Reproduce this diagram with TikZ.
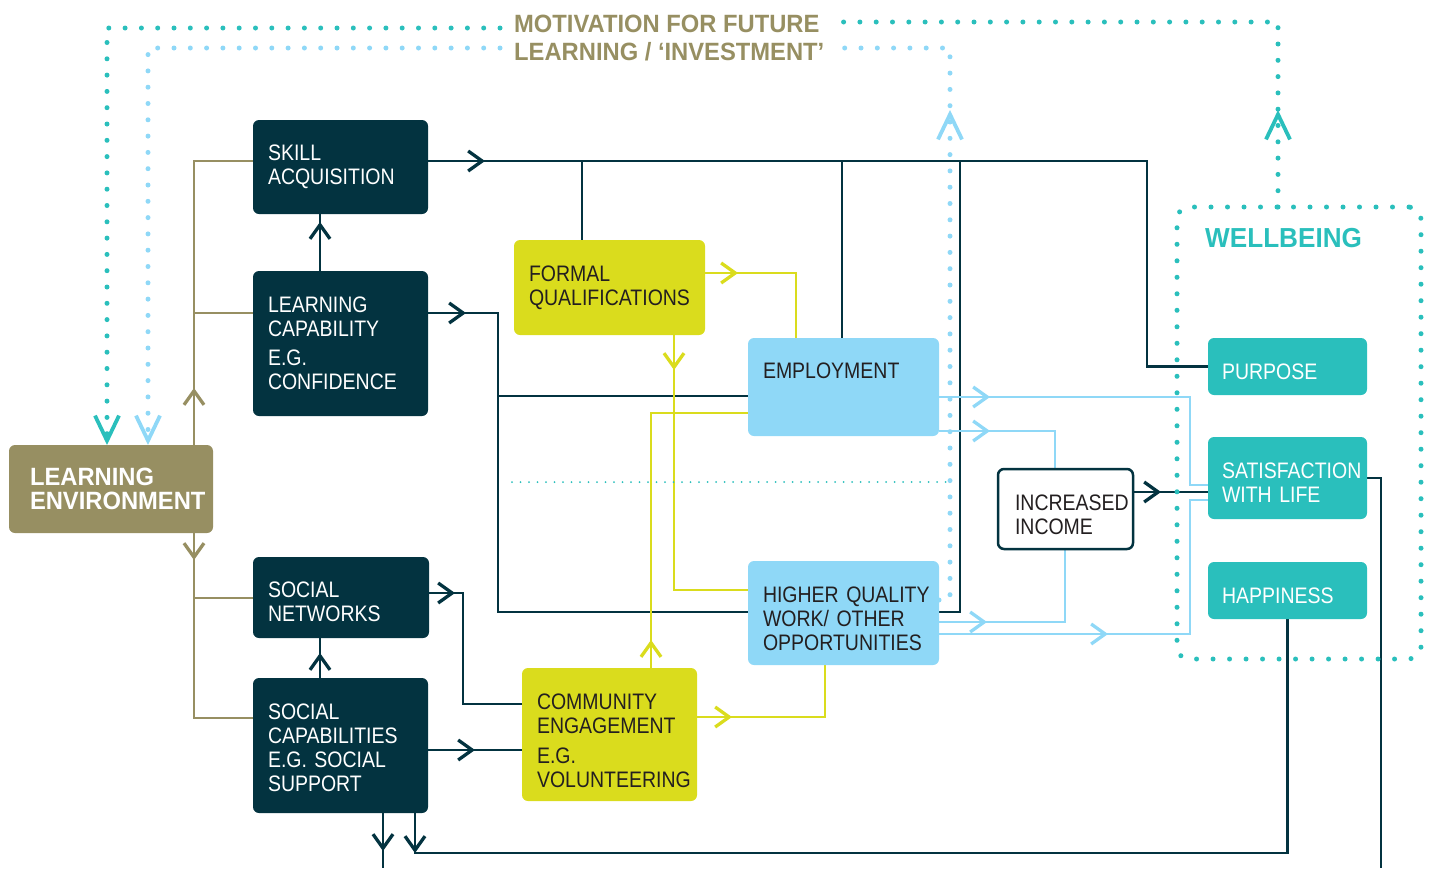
\documentclass[tikz,border=0pt]{standalone}
\usepackage{fontspec}
\setmainfont{Liberation Sans}[FakeStretch=0.87]
\newfontfamily\headfont{Liberation Sans}[FakeStretch=0.95]
\usepackage{xcolor}
\usetikzlibrary{arrows.meta, positioning, calc, backgrounds, decorations.markings}
\definecolor{darknavy}{RGB}{3,51,64}
\definecolor{envkhaki}{RGB}{151,143,98}
\definecolor{limeyellow}{RGB}{218,220,29}
\definecolor{skyblue}{RGB}{143,216,247}
\definecolor{wbteal}{RGB}{42,191,188}
\definecolor{inkdark}{RGB}{35,31,32}
\newcommand\diagfont{\fontsize{22.4}{24}\selectfont}
\newcommand\headsize{\headfont\bfseries\fontsize{25}{28}\selectfont}
\newcommand\lowstrut[1]{\rule{0pt}{#1}}
\tikzset{
	chev/.tip={Straight Barb[length=14pt,width=20pt,line width=3.3pt]},
	bigchev/.tip={Straight Barb[length=25pt,width=24pt,line width=3.8pt]}
}

\begin{document}
\begin{tikzpicture}
		[x=1pt,y=-1pt,
	diagbox/.style={rounded corners=6pt,anchor=north west,outer sep=0pt,inner xsep=15pt,inner ysep=2pt,align=left,font=\diagfont,execute at begin node={\hyphenpenalty=10000}},
	darkbox/.style={diagbox,fill=darknavy,text=white},
	limebox/.style={diagbox,fill=limeyellow,text=inkdark},
	skybox/.style={diagbox,fill=skyblue,text=inkdark},
	tealbox/.style={diagbox,fill=wbteal,text=white,inner xsep=14pt,text width=131pt,minimum width=159pt},
	navyline/.style={draw=darknavy,line width=2.4pt},
	khline/.style={draw=envkhaki,line width=2.4pt},
	limeline/.style={draw=limeyellow,line width=2.8pt},
	skyline/.style={draw=skyblue,line width=2.8pt},
	tealdots/.style={draw=wbteal,line width=5pt,line cap=round,dash pattern=on 0pt off 16.3pt},
	skydots/.style={draw=skyblue,line width=5pt,line cap=round,dash pattern=on 0pt off 16.3pt},
	tipat/.style={postaction={decorate},decoration={markings,mark=at position #1 with {\pgfsetdash{}{0pt}\arrow{chev}}}},
	bigtipat/.style={postaction={decorate},decoration={markings,mark=at position #1 with {\pgfsetdash{}{0pt}\arrow{bigchev}}}}
	]
		\useasboundingbox (0,0) rectangle (1429,868);

		\node (skill) [darkbox,text width=145pt,minimum width=175pt,minimum height=94pt] at (253,120) {SKILL\\ACQUISITION};
		\node (lcap) [darkbox,text width=145pt,minimum width=175pt,minimum height=145pt,below=57pt of skill.south west,anchor=north west] {LEARNING\\CAPABILITY\\[5pt]E.G.\\CONFIDENCE};
		\node (snet) [darkbox,text width=146pt,minimum width=176pt,minimum height=81pt] at (253,557) {\lowstrut{24pt}SOCIAL\\NETWORKS};
		\node (scap) [darkbox,text width=145pt,minimum width=175pt,minimum height=135pt,below=40pt of snet.south west,anchor=north west] {\lowstrut{20pt}SOCIAL\\CAPABILITIES\\E.G.~SOCIAL\\SUPPORT};
		\node (lenv) [diagbox,fill=envkhaki,text=white,font=\headsize,inner xsep=21pt,text width=162pt,minimum width=204pt,minimum height=88pt] at (9,445) {LEARNING\\[-4pt]ENVIRONMENT};
		\node (fqual) [limebox,text width=161pt,minimum width=191pt,minimum height=95pt] at (514,240) {FORMAL\\QUALIFICATIONS};
		\node (emp) [skybox,text width=161pt,minimum width=191pt,minimum height=98pt,text depth=32pt] at (748,338) {EMPLOYMENT};
		\node (hqw) [skybox,text width=161pt,minimum width=191pt,minimum height=104pt] at (748,561) {\lowstrut{28pt}HIGHER~QUALITY\\WORK/~OTHER\\OPPORTUNITIES};
		\node (ceng) [limebox,text width=145pt,minimum width=175pt,minimum height=133pt] at (522,668) {\lowstrut{28pt}COMMUNITY\\ENGAGEMENT\\[6pt]E.G.\\VOLUNTEERING};
		\node (iinc) [diagbox,fill=white,draw=darknavy,line width=2.5pt,text=inkdark,inner xsep=17pt,text width=101pt,minimum width=135pt,minimum height=80pt] at (998,469) {\lowstrut{28pt}INCREASED\\INCOME};
		\node (wb) [draw=wbteal,line width=5pt,line cap=round,dash pattern=on 0pt off 16.5pt,rounded corners=12pt,anchor=north west,outer sep=0pt,inner sep=0pt,minimum width=244pt,minimum height=452pt] at (1177,207) {};
		\node (wbtitle) [anchor=west,inner sep=0pt,text=wbteal,font=\headfont\bfseries\fontsize{27.5}{30}\selectfont] at (1205,238) {WELLBEING};
		\node (purp) [tealbox,minimum height=57pt] at (1208,338) {\lowstrut{26pt}PURPOSE};
		\node (satl) [tealbox,minimum height=82pt,below=42pt of purp.south west,anchor=north west] {\lowstrut{24pt}SATISFACTION\\WITH~LIFE};
		\node (happ) [tealbox,minimum height=57pt,below=43pt of satl.south west,anchor=north west] {\lowstrut{26pt}HAPPINESS};
		\node (motiv) [anchor=north west,inner xsep=14pt,inner ysep=0pt,align=left,text=envkhaki,font=\headsize] at (500,15) {MOTIVATION FOR FUTURE\\LEARNING / ‘INVESTMENT’};

		\begin{scope}[on background layer]
		\coordinate (kup) at (194,161);
		\coordinate (kmid) at (194,313);
		\coordinate (kdown) at (194,718);
		\coordinate (klow) at (194,598);
		\draw [khline,tipat=57pt] (lenv.north -| kup) -- (kup) -- (kup -| skill.west);
		\draw [khline] (kmid) -- (kmid -| lcap.west);
		\draw [khline,tipat=27pt] (lenv.south -| kdown) -- (kdown) -- (kdown -| scap.west);
		\draw [khline] (klow) -- (klow -| snet.west);

		\coordinate (tbus) at (1147,161);
		\coordinate (tfq) at (582,161);
		\coordinate (temp) at (842,161);
		\coordinate (thq) at (960,161);
		\coordinate (lcbend) at (498,313);
		\coordinate (lbus) at (498,612);
		\coordinate (empin) at (498,396);
		\draw [navyline,tipat=57pt] (skill.east |- tbus) -- (tbus) |- (purp.west);
		\draw [navyline] (tfq) -- (tfq |- fqual.north);
		\draw [navyline] (temp) -- (temp |- emp.north);
		\draw [navyline,tipat=38pt] (lcap.east |- lcbend) -- (lcbend) -- (lbus) -- (lbus -| thq) -- (thq);
		\draw [navyline] (empin) -- (empin -| emp.west);
		\draw [navyline,tipat=49pt] (lcap.north -| 320,0) -- (skill.south -| 320,0);

		\coordinate (snbend) at (463,593);
		\coordinate (scout) at (383,868);
		\coordinate (botbend) at (415,853);
		\coordinate (satout) at (1381,868);
		\draw [navyline,tipat=26pt] (snet.east |- snbend) -- (snbend) |- (ceng.west |- 0,704);
		\draw [navyline,tipat=47pt] (scap.east |- 0,750) -- (ceng.west |- 0,750);
		\draw [navyline,tipat=25pt] (scap.north -| 320,0) -- (snet.south -| 320,0);
		\draw [navyline,tipat=38pt] (scap.south -| scout) -- (scout);
		\draw [navyline,tipat=40pt] (scap.south -| botbend) -- (botbend) -| (happ.south);
		\draw [navyline] (satl.east) -| (satout);
		\draw [navyline,tipat=28pt] (iinc.east |- 0,492) -- (satl.west |- 0,492);

		\coordinate (skybend1) at (1190,485);
		\coordinate (skybend2) at (1190,500);
		\draw [skyline,tipat=51pt] (emp.east |- 0,397) -| (skybend1) -- (skybend1 -| satl.west);
		\draw [skyline,tipat=51pt] (emp.east |- 0,431) -| (iinc.north -| 1055,0);
		\draw [skyline,tipat=48pt] (hqw.east |- 0,622) -| (iinc.south -| 1065,0);
		\draw [skyline,tipat=169pt] (hqw.east |- 0,634) -| (skybend2) -- (skybend2 -| satl.west);

		\draw [limeline,tipat=33pt] (fqual.east |- 0,273) -| (emp.north -| 796,0);
		\draw [limeline,tipat=35pt] (fqual.south -| 674,0) |- (hqw.west |- 0,590);
		\draw [limeline,tipat=28pt] (ceng.north -| 651,0) |- (emp.west |- 0,413);
		\draw [limeline,tipat=35pt] (ceng.east |- 0,717) -| (hqw.south -| 825,0);

		\coordinate (sepa) at (512,482);
		\coordinate (sepb) at (950,482);
		\draw [wbteal,line width=2pt,line cap=round,dash pattern=on 0pt off 8.5pt] (sepa) -- (sepb);
		\end{scope}

		\coordinate (tealtop) at (1278,22);
		\coordinate (tealleft) at (107,28);
		\coordinate (skytop) at (950,48);
		\coordinate (skyleft) at (148,48);
		\coordinate (hqdot) at (950,600);
		\draw [tealdots,bigtipat=97pt] (wb.north -| tealtop) -- (tealtop) -- (tealtop -| motiv.east);
		\draw [tealdots,-bigchev] (motiv.west |- tealleft) -- (tealleft) -- (lenv.north -| tealleft);
		\draw [skydots,bigtipat=501pt] (hqw.east |- hqdot) -- (hqdot) -- (skytop) -- (skytop -| motiv.east);
		\draw [skydots,-bigchev] (motiv.west |- skyleft) -- (skyleft) -- (lenv.north -| skyleft);
	\end{tikzpicture}
\end{document}
